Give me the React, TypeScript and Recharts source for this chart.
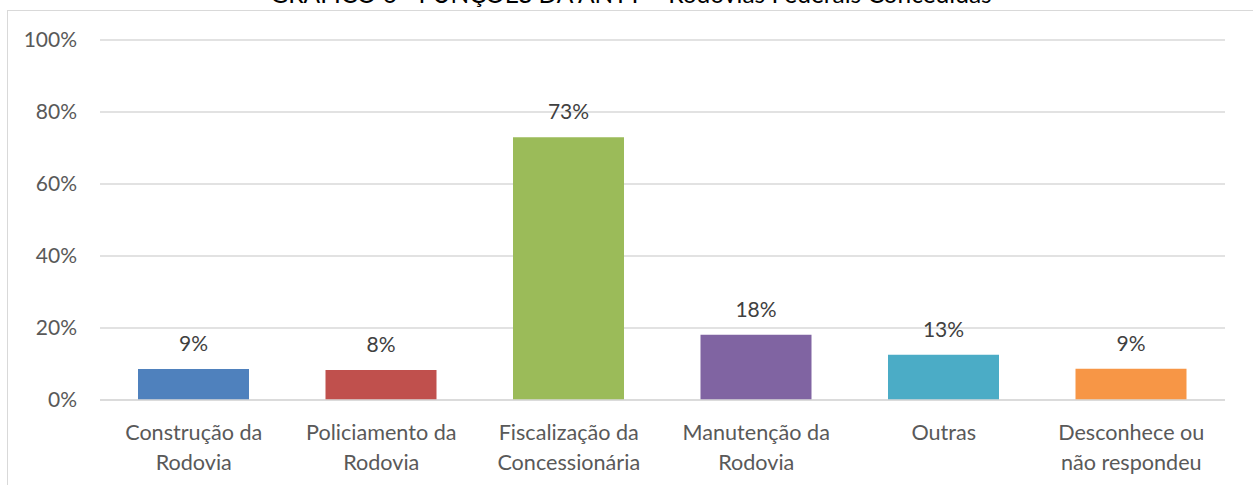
import { BarChart, Bar, XAxis, YAxis, CartesianGrid, Cell, LabelList } from 'recharts';

const categories = [
  'Construção da Rodovia',
  'Policiamento da Rodovia',
  'Fiscalização da Concessionária',
  'Manutenção da Rodovia',
  'Outras',
  'Desconhece ou não respondeu',
];
const tickLines = [
  ['Construção da', 'Rodovia'],
  ['Policiamento da', 'Rodovia'],
  ['Fiscalização da', 'Concessionária'],
  ['Manutenção da', 'Rodovia'],
  ['Outras'],
  ['Desconhece ou', 'não respondeu'],
];
const values = [8.6, 8.3, 73.0, 18.1, 12.6, 8.7];
const colors = ['#4F81BD', '#C0504D', '#9BBB59', '#8064A2', '#4BACC6', '#F79646'];
const yTicks = [0, 20, 40, 60, 80, 100];
const title = 'GRÁFICO 6 - FUNÇÕES DA ANTT – Rodovias Federais Concedidas';

const FONT = 'Lato, "Liberation Sans", sans-serif';
const TEXT = '#595959';

const data = categories.map((name, i) => ({ name, value: values[i], idx: i }));

// two-line category labels under the axis
const CategoryTick = ({ x, y, index }: { x?: number; y?: number; index?: number }) => {
  const lines = tickLines[index ?? 0];
  return (
    <g transform={`translate(${x},${y})`}>
      {lines.map((line, i) => (
        <text
          key={i}
          x={0}
          y={32 + i * 30}
          textAnchor="middle"
          fill={TEXT}
          fontSize={21.6}
          fontFamily={FONT}
        >
          {line}
        </text>
      ))}
    </g>
  );
};

const ValueLabel = (props: any) => {
  const { x, y, width, value } = props;
  return (
    <text
      x={x + width / 2}
      y={y - 18}
      textAnchor="middle"
      fill="#404040"
      fontSize={21}
      fontFamily={FONT}
    >
      {`${Math.round(value)}%`}
    </text>
  );
};

export default function App() {
  return (
    <div
      style={{
        position: 'absolute',
        left: 0,
        top: 0,
        width: 1253,
        height: 485,
        background: '#fff',
        overflow: 'hidden',
      }}
    >
      {/* chart frame: only left and top edges show */}
      <div
        style={{
          position: 'absolute',
          left: 7,
          top: 10,
          width: 1300,
          height: 500,
          borderLeft: '1.5px solid #D9D9D9',
          borderTop: '1.5px solid #D9D9D9',
        }}
      />
      <svg
        width={1253}
        height={20}
        style={{ position: 'absolute', left: 0, top: 0 }}
      >
        <text x={631} y={3} textAnchor="middle" fill="#000" fontSize={24.5} fontFamily={FONT}>
          {title}
        </text>
      </svg>
      <div style={{ position: 'absolute', left: 0, top: 0 }}>
        <BarChart
          width={1253}
          height={485}
          data={data}
          margin={{ top: 40, right: 28, bottom: 0, left: 0 }}
        >
          <CartesianGrid vertical={false} stroke="#D9D9D9" strokeWidth={1.5} />
          <XAxis
            dataKey="name"
            height={85}
            interval={0}
            tickLine={false}
            axisLine={{ stroke: '#D9D9D9', strokeWidth: 1.5 }}
            tick={<CategoryTick />}
          />
          <YAxis
            domain={[0, 100]}
            ticks={yTicks}
            width={100}
            axisLine={false}
            tickLine={false}
            tickSize={0}
            tickMargin={23}
            tickFormatter={(v) => `${v}%`}
            tick={{ fill: TEXT, fontSize: 21, fontFamily: FONT }}
          />
          <Bar dataKey="value" barSize={111} isAnimationActive={false}>
            {data.map((d) => (
              <Cell key={d.name} fill={colors[d.idx]} />
            ))}
            <LabelList dataKey="value" content={<ValueLabel />} />
          </Bar>
        </BarChart>
      </div>
    </div>
  );
}
